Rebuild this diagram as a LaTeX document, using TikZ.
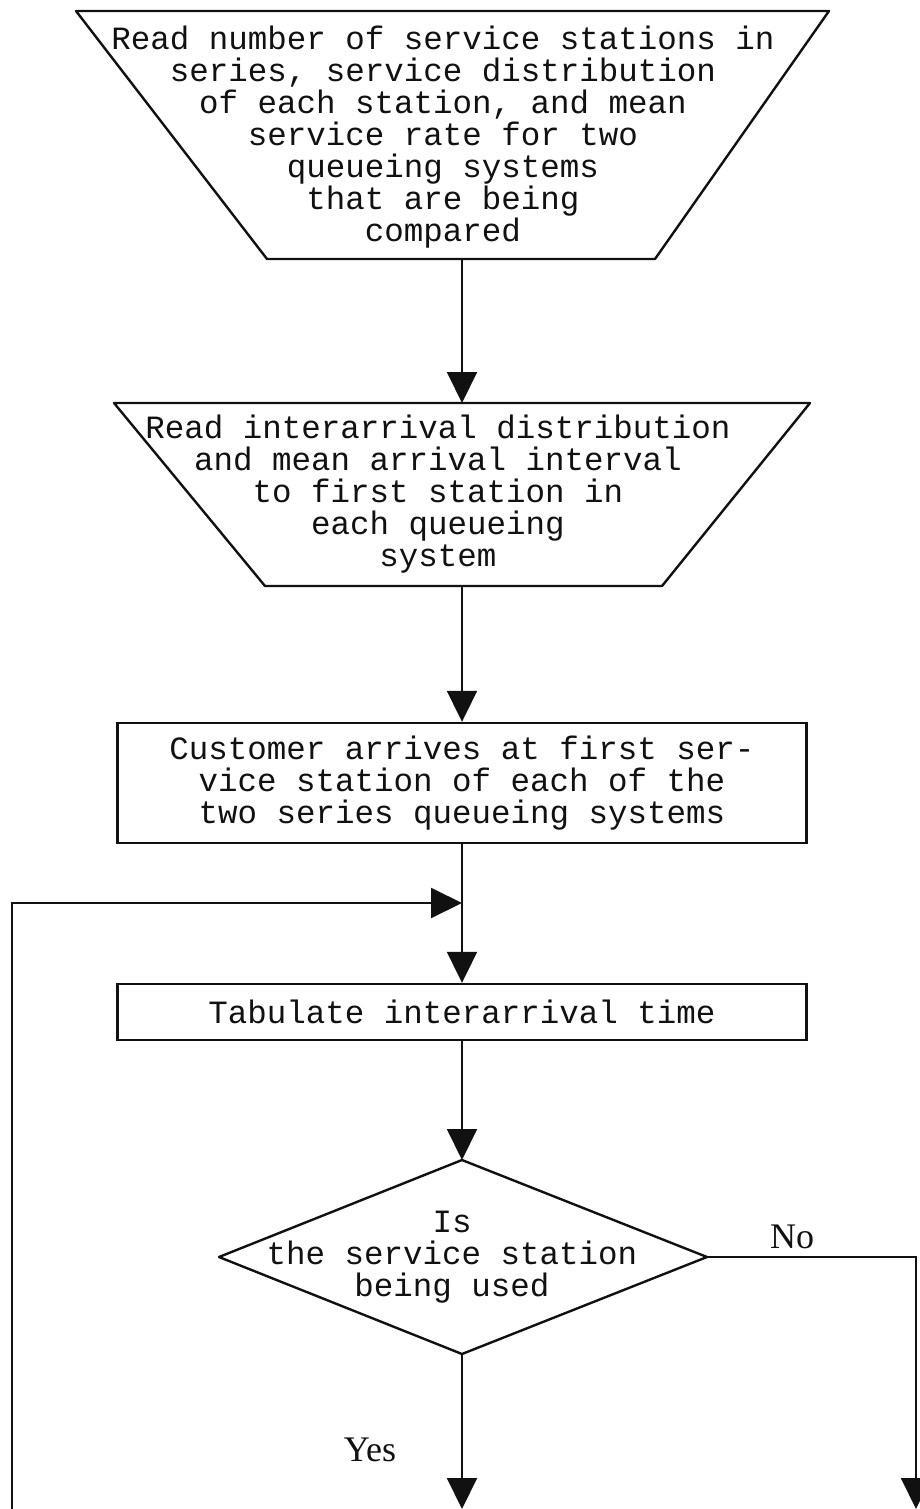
\documentclass[tikz,border=0pt]{standalone}
\usepackage{fontspec}
\newfontfamily\typefont{Liberation Mono}
\newfontfamily\answerfont{Liberation Serif}
\usetikzlibrary{arrows.meta,positioning,calc}
\usepackage{xcolor}
\definecolor{inkBlack}{HTML}{111111}
\tikzset{
shapeline/.style={draw=inkBlack, line width=2.4pt, line join=round},
txt/.style={align=center, inner sep=0pt, text=inkBlack, font=\typefont\fontsize{32.5}{32}\selectfont},
boxed/.style={txt, draw=inkBlack, line width=2.4pt, minimum width=689pt},
flow/.style={draw=inkBlack, line width=2pt, -{Triangle[length=31pt,width=30pt]}},
answer/.style={inner sep=0pt, text=inkBlack, font=\answerfont\fontsize{36}{36}\selectfont}
}

\begin{document}
\begin{tikzpicture}[x=1pt,y=-1pt]
\useasboundingbox (0,0) rectangle (920,1509);
% input of the two series systems
\draw[shapeline] (76,11) -- (829,11) -- (655,259) -- (267,259) -- cycle;
\node[txt] (stations) at (443,137) {Read number of service stations in\\series, service distribution\\of each station, and mean\\service rate for two\\queueing systems\\that are being\\compared};
\coordinate (stations out) at (462,259);

\draw[shapeline] (114,403) -- (810,403) -- (662,586) -- (265,586) -- cycle;
\node[txt] (arrivals) at (438,494) {Read interarrival distribution\\and mean arrival interval\\to first station in\\each queueing\\system};
\coordinate (arrivals in) at (462,403);
\coordinate (arrivals out) at (462,586);

% process boxes
\node[boxed, minimum height=120pt] (arrive) at (462,783) {Customer arrives at first ser-\\vice station of each of the\\two series queueing systems};
\node[boxed, minimum height=56pt] (tabulate) at (462,1012) {Tabulate interarrival time};

% decision
\node[txt] (busy) at (452,1257) {Is\\the service station\\being used};
\draw[shapeline] (462,1160) coordinate (busy top) -- (707,1257) coordinate (busy right)
  -- (462,1354) coordinate (busy bottom) -- (219,1257) coordinate (busy left) -- cycle;

% open ends at the page border
\coordinate (loop start) at (12,1509);
\coordinate (join) at (462,903);
\coordinate (yes end) at (462,1509);
\coordinate (no end) at (916,1509);

\draw[flow] (stations out) -- (arrivals in);
\draw[flow] (arrivals out) -- (arrive.north);
\draw[flow] (arrive.south) -- (tabulate.north);
\draw[flow] (loop start) |- (join);
\draw[flow] (tabulate.south) -- (busy top);
\draw[flow] (busy bottom) -- (yes end);
\draw[flow] (busy right) -| (no end);

\node[answer] (no) at (792,1237) {No};
\node[answer] (yes) at (370,1450) {Yes};
\end{tikzpicture}
\end{document}
